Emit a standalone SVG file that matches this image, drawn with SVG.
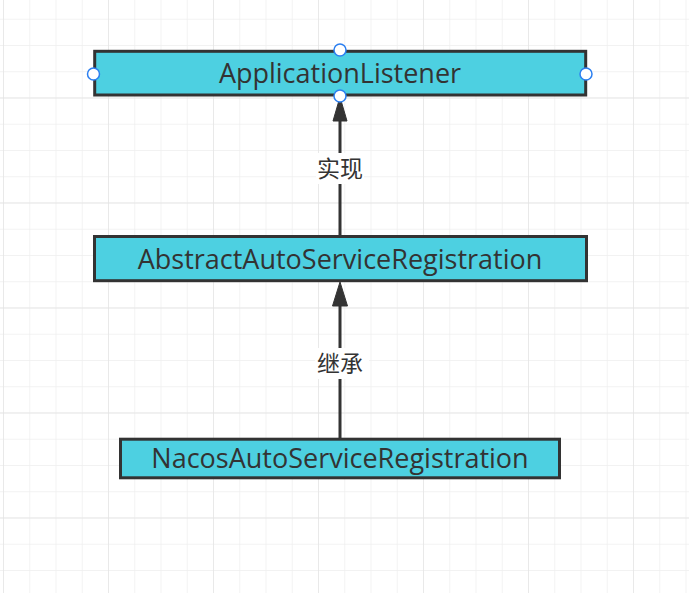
<svg xmlns="http://www.w3.org/2000/svg" width="689" height="593" viewBox="0 0 689 593">
  <defs>
    <pattern id="minor" x="3" y="-7.5" width="26.25" height="26.25" patternUnits="userSpaceOnUse">
      <path d="M0 0 H26.25 M0 0 V26.25" fill="none" stroke="#eeeeee" stroke-width="1.3"/>
    </pattern>
    <pattern id="major" x="3" y="-7.5" width="105" height="105" patternUnits="userSpaceOnUse">
      <path d="M0 0 H105 M0 0 V105" fill="none" stroke="#e4e4e4" stroke-width="1.3"/>
    </pattern>
    <style>
      .box { fill: #4dd0e1; stroke: #333333; stroke-width: 3; }
      .label { font-family: "Open Sans", "Noto Sans", sans-serif; font-size: 27px; fill: #333333; text-anchor: middle; }
      .edge { stroke: #333333; stroke-width: 3; fill: none; }
      .head { fill: #333333; stroke: #333333; stroke-width: 1; }
      .elabel { font-family: "Noto Sans CJK SC", "Noto Sans", sans-serif; font-size: 23px; fill: #333333; text-anchor: middle; }
      .pt { fill: #ffffff; stroke: #2c7ff0; stroke-width: 1.5; }
    </style>
  </defs>
  <rect width="689" height="593" fill="#ffffff"/>
  <rect width="689" height="593" fill="url(#minor)"/>
  <rect width="689" height="593" fill="url(#major)"/>

  <g id="connectors">
    <g id="edge-implements">
      <line class="edge" x1="340" y1="236" x2="340" y2="118"/>
      <polygon class="head" points="340,97 333,121 347,121"/>
      <rect x="316" y="153" width="48" height="31" fill="#ffffff"/>
      <text class="elabel" x="340" y="177">实现</text>
    </g>
    <g id="edge-extends">
      <line class="edge" x1="340" y1="438" x2="340" y2="303"/>
      <polygon class="head" points="340,282 332.5,306 347.5,306"/>
      <rect x="315" y="348" width="54" height="31" fill="#ffffff"/>
      <text class="elabel" x="340" y="372">继承</text>
    </g>
  </g>

  <g id="node-application-listener">
    <rect class="box" x="94.7" y="51.3" width="491" height="43.7"/>
    <text class="label" x="340" y="83.3">ApplicationListener</text>
    <circle class="pt" cx="340" cy="50" r="6"/>
    <circle class="pt" cx="93.5" cy="74" r="6"/>
    <circle class="pt" cx="586" cy="74" r="6"/>
    <circle class="pt" cx="340" cy="96" r="6"/>
  </g>

  <g id="node-abstract-auto-service-registration">
    <rect class="box" x="94.5" y="236.5" width="492" height="44.2"/>
    <text class="label" x="340" y="269">AbstractAutoServiceRegistration</text>
  </g>

  <g id="node-nacos-auto-service-registration">
    <rect class="box" x="120.5" y="439.2" width="439" height="38.6"/>
    <text class="label" x="340" y="468.3">NacosAutoServiceRegistration</text>
  </g>
</svg>
